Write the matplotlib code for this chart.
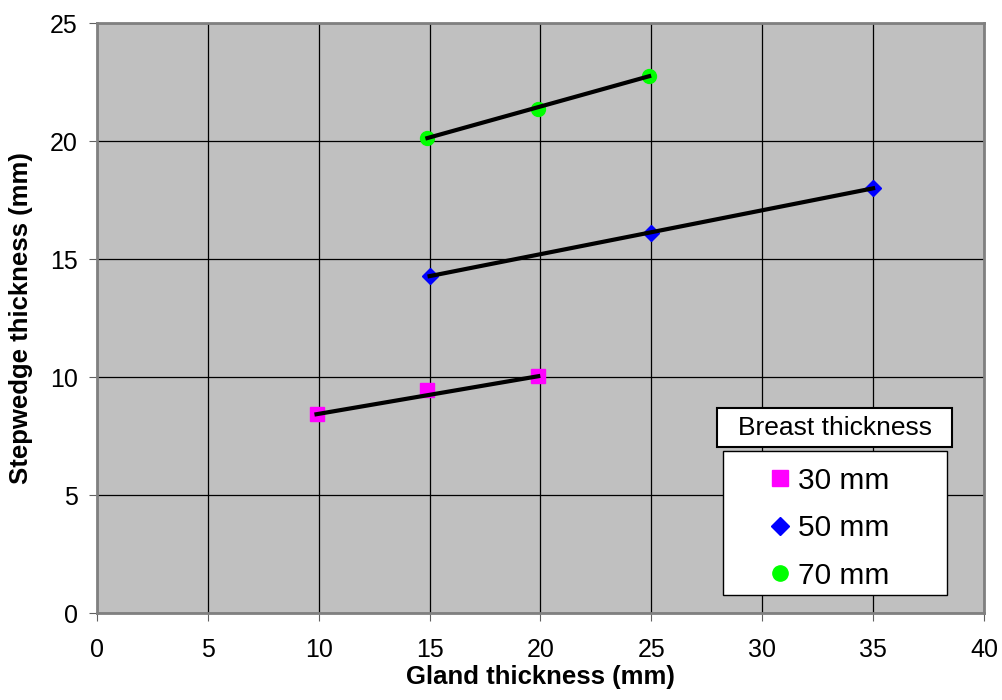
import numpy as np
import matplotlib.pyplot as plt
from matplotlib.patches import Rectangle
from matplotlib.lines import Line2D

plt.rcParams['font.family'] = ['Liberation Sans', 'DejaVu Sans']

# gland thickness (mm) and stepwedge thickness (mm) per breast thickness
x30 = np.array([9.9, 14.9, 19.9])
y30 = np.array([8.43, 9.45, 10.04])
x50 = np.array([15.0, 25.0, 35.0])
y50 = np.array([14.28, 16.10, 18.0])
x70 = np.array([14.9, 19.9, 24.9])
y70 = np.array([20.13, 21.36, 22.75])

labels = ['30 mm', '50 mm', '70 mm']
colors = ['#FF00FF', '#0000FF', '#00FF00']
markers = ['s', 'D', 'o']
sizes = [10, 8, 10]

fig = plt.figure(figsize=(10.02, 7), dpi=100)
ax = fig.add_axes([0.0968, 0.124, 0.8852, 0.843])
ax.set_facecolor('#C0C0C0')

series = [(x30, y30), (x50, y50), (x70, y70)]
for (xs, ys), c, m, s in zip(series, colors, markers, sizes):
    ax.plot(xs, ys, linestyle='none', marker=m, color=c, markersize=s, zorder=3)
    ax.plot(xs[[0, -1]], ys[[0, -1]], color='black', linewidth=3, zorder=4)

ax.set_xlim(0, 40)
ax.set_ylim(0, 25)
ax.set_xticks(np.arange(0, 41, 5))
ax.set_yticks(np.arange(0, 26, 5))
ax.grid(color='black', linewidth=0.9)
ax.set_axisbelow(True)
for sp in ax.spines.values():
    sp.set_color('#808080')
    sp.set_linewidth(2)
ax.tick_params(labelsize=18, length=6, color='#606060', direction='out', pad=12)
ax.tick_params(axis='y', pad=8)

ax.set_xlabel('Gland thickness (mm)', fontsize=18.5, fontweight='bold', labelpad=2)
ax.set_ylabel('Stepwedge thickness (mm)', fontsize=18.5, fontweight='bold', labelpad=12)

# legend: title box and entries box
ax.add_patch(Rectangle((0.699, 0.281), 0.265, 0.0665, transform=ax.transAxes,
                       facecolor='white', edgecolor='black', linewidth=1.5, zorder=5))
ax.text(0.8315, 0.3142, 'Breast thickness', transform=ax.transAxes, fontsize=19,
        ha='center', va='center', zorder=6)
ax.add_patch(Rectangle((0.706, 0.0305), 0.252, 0.244, transform=ax.transAxes,
                       facecolor='white', edgecolor='black', linewidth=1, zorder=5))
handles = [Line2D([], [], linestyle='none', marker=m, color=c, markersize=s + 1)
           for c, m, s in zip(colors, markers, sizes)]
leg = ax.legend(handles, labels, loc='center', bbox_to_anchor=(0.825, 0.144),
                frameon=False, fontsize=21.5, handlelength=0.8, handletextpad=0.2,
                labelspacing=0.65)
leg.set_zorder(7)

fig.savefig('out.png', dpi=100)
